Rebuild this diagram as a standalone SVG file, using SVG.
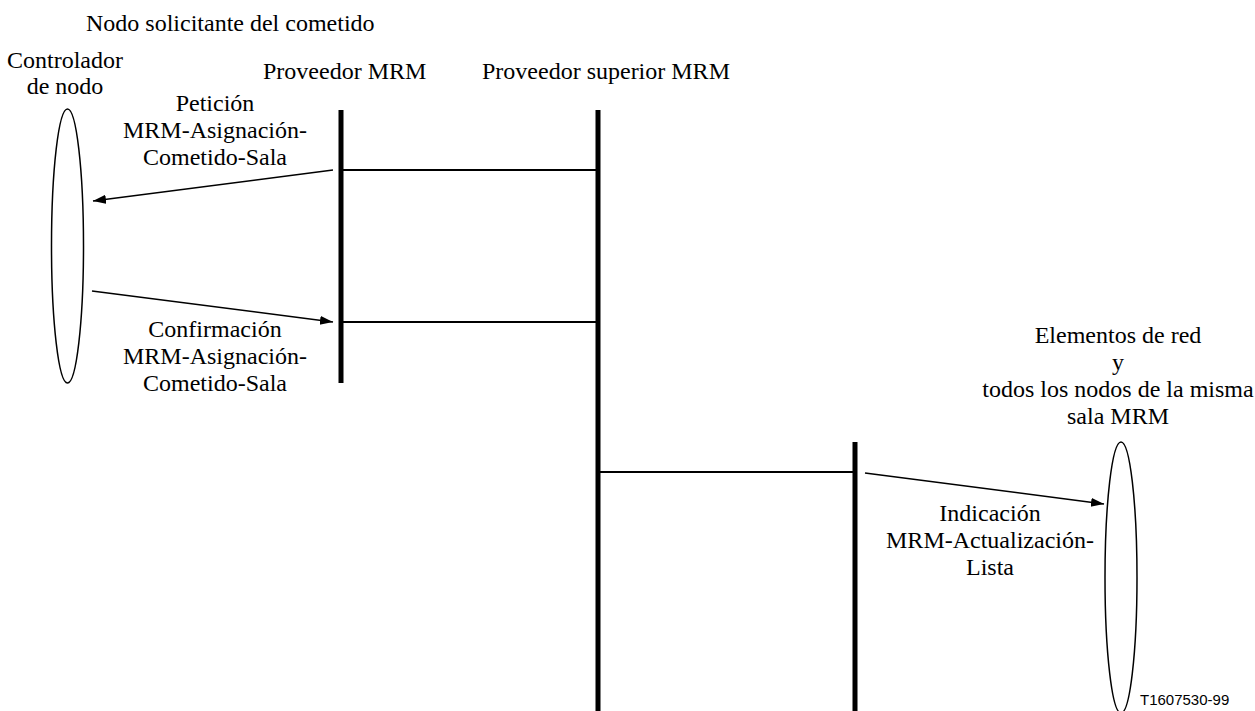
<svg xmlns="http://www.w3.org/2000/svg" width="1255" height="711" viewBox="0 0 1255 711">
<style>
.t{font-family:"Liberation Serif","Times New Roman",Times,"DejaVu Serif",serif;font-size:24px;fill:#000}
.c{text-anchor:middle}
.lf{stroke:#000;stroke-width:5;fill:none}
.h{stroke:#000;stroke-width:2;fill:none}
.ar{stroke:#000;stroke-width:1.5;fill:none;marker-end:url(#ah)}
.el{stroke:#000;stroke-width:1.5;fill:#fff}
.ref{font-family:"Liberation Sans",Arial,sans-serif;font-size:15px;fill:#000}
</style>
<defs>
<marker id="ah" markerUnits="userSpaceOnUse" markerWidth="14" markerHeight="10" refX="13" refY="4.5" orient="auto">
<path d="M0,0 L13,4.5 L0,9 z" fill="#000"/>
</marker>
</defs>
<rect width="1255" height="711" fill="#fff"/>
<g id="node-controlador">
<text class="t" x="86" y="31" font-family="Liberation Serif, serif">Nodo solicitante del cometido</text>
<text class="t c" x="65" y="68">Controlador</text>
<text class="t c" x="65" y="94">de nodo</text>
<ellipse class="el" cx="67.5" cy="246" rx="16" ry="137"/>
</g>
<g id="node-proveedor">
<text class="t" x="263" y="79">Proveedor MRM</text>
<line class="lf" x1="341" y1="110" x2="341" y2="383"/>
</g>
<g id="node-superior">
<text class="t" x="482" y="79">Proveedor superior MRM</text>
<line class="lf" x1="598" y1="110" x2="598" y2="711"/>
</g>
<g id="node-third">
<line class="lf" x1="855" y1="442" x2="855" y2="711"/>
</g>
<g id="node-elementos">
<text class="t c" x="1118" y="343">Elementos de red</text>
<text class="t c" x="1118" y="370">y</text>
<text class="t c" x="1118" y="397">todos los nodos de la misma</text>
<text class="t c" x="1118" y="424">sala MRM</text>
<ellipse class="el" cx="1121" cy="577.5" rx="16" ry="135.5"/>
</g>
<g id="connectors">
<line class="h" x1="341" y1="170" x2="598" y2="170"/>
<line class="h" x1="341" y1="322" x2="598" y2="322"/>
<line class="h" x1="598" y1="472" x2="855" y2="472"/>
<line class="ar" x1="333" y1="170" x2="93" y2="201"/>
<line class="ar" x1="92" y1="291" x2="333" y2="322"/>
<line class="ar" x1="865" y1="473" x2="1104" y2="504"/>
</g>
<g id="labels">
<text class="t c" x="215" y="111">Petición</text>
<text class="t c" x="215" y="138">MRM-Asignación-</text>
<text class="t c" x="215" y="165">Cometido-Sala</text>
<text class="t c" x="215" y="337">Confirmación</text>
<text class="t c" x="215" y="364">MRM-Asignación-</text>
<text class="t c" x="215" y="391">Cometido-Sala</text>
<text class="t c" x="990" y="521">Indicación</text>
<text class="t c" x="990" y="548">MRM-Actualización-</text>
<text class="t c" x="990" y="575">Lista</text>
</g>
<text class="ref" x="1140" y="705">T1607530-99</text>
</svg>
